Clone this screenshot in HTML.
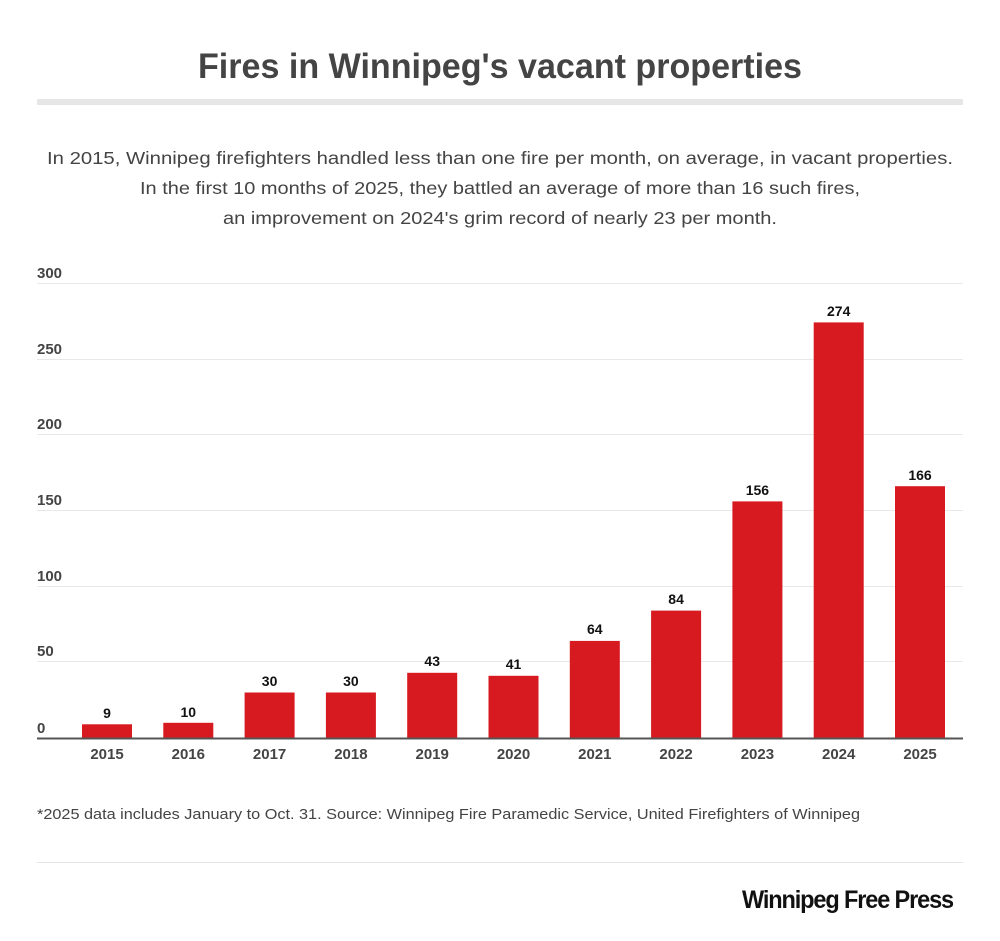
<!DOCTYPE html>
<html><head><meta charset="utf-8"><style>
html,body{margin:0;padding:0;background:#fff;}
svg{display:block;}
text{font-family:"Liberation Sans",sans-serif;}
</style></head><body>
<svg width="1000" height="941" viewBox="0 0 1000 941" xmlns="http://www.w3.org/2000/svg">
<rect width="1000" height="941" fill="#fff"/>
<text x="500" y="78" text-anchor="middle" font-size="35" font-weight="bold" fill="#444" textLength="604" lengthAdjust="spacingAndGlyphs">Fires in Winnipeg's vacant properties</text>
<rect x="37" y="99" width="926" height="6" fill="#e6e6e6"/>
<g font-size="17.5" fill="#444" text-anchor="middle">
<text x="500" y="164" textLength="906" lengthAdjust="spacingAndGlyphs">In 2015, Winnipeg firefighters handled less than one fire per month, on average, in vacant properties.</text>
<text x="500" y="194" textLength="720" lengthAdjust="spacingAndGlyphs">In the first 10 months of 2025, they battled an average of more than 16 such fires,</text>
<text x="500" y="224" textLength="554" lengthAdjust="spacingAndGlyphs">an improvement on 2024's grim record of nearly 23 per month.</text>
</g>
<g stroke="#e8e8e8" stroke-width="1">
<line x1="37" x2="963" y1="283.5" y2="283.5"/>
<line x1="37" x2="963" y1="359.5" y2="359.5"/>
<line x1="37" x2="963" y1="434.5" y2="434.5"/>
<line x1="37" x2="963" y1="510.5" y2="510.5"/>
<line x1="37" x2="963" y1="586.5" y2="586.5"/>
<line x1="37" x2="963" y1="661.5" y2="661.5"/>
</g>
<g font-size="15" font-weight="bold" fill="#444">
<text x="37" y="278">300</text>
<text x="37" y="354">250</text>
<text x="37" y="429">200</text>
<text x="37" y="505">150</text>
<text x="37" y="581">100</text>
<text x="37" y="656">50</text>
<text x="37" y="733">0</text>
</g>
<g fill="#d71920">
<rect x="82" y="724.3" width="50" height="13.7"/>
<rect x="163.3" y="722.8" width="50" height="15.2"/>
<rect x="244.6" y="692.5" width="50" height="45.5"/>
<rect x="325.9" y="692.5" width="50" height="45.5"/>
<rect x="407.2" y="672.8" width="50" height="65.2"/>
<rect x="488.5" y="675.8" width="50" height="62.2"/>
<rect x="569.8" y="640.9" width="50" height="97.1"/>
<rect x="651.1" y="610.6" width="50" height="127.4"/>
<rect x="732.4" y="501.4" width="50" height="236.6"/>
<rect x="813.7" y="322.4" width="50" height="415.6"/>
<rect x="895" y="486.2" width="50" height="251.8"/>
</g>
<g font-size="14" font-weight="bold" fill="#111" text-anchor="middle">
<text x="107" y="718">9</text>
<text x="188.3" y="717">10</text>
<text x="269.6" y="686">30</text>
<text x="350.9" y="686">30</text>
<text x="432.2" y="666">43</text>
<text x="513.5" y="669">41</text>
<text x="594.8" y="634">64</text>
<text x="676.1" y="604">84</text>
<text x="757.4" y="495">156</text>
<text x="838.7" y="316">274</text>
<text x="920" y="480">166</text>
</g>
<line x1="37" x2="963" y1="738.5" y2="738.5" stroke="#555" stroke-width="2"/>
<g font-size="15" font-weight="bold" fill="#444" text-anchor="middle">
<text x="107" y="759">2015</text>
<text x="188.3" y="759">2016</text>
<text x="269.6" y="759">2017</text>
<text x="350.9" y="759">2018</text>
<text x="432.2" y="759">2019</text>
<text x="513.5" y="759">2020</text>
<text x="594.8" y="759">2021</text>
<text x="676.1" y="759">2022</text>
<text x="757.4" y="759">2023</text>
<text x="838.7" y="759">2024</text>
<text x="920" y="759">2025</text>
</g>
<text x="37" y="819" font-size="15" fill="#444" textLength="823" lengthAdjust="spacingAndGlyphs">*2025 data includes January to Oct. 31. Source: Winnipeg Fire Paramedic Service, United Firefighters of Winnipeg</text>
<line x1="37" x2="963" y1="862.5" y2="862.5" stroke="#e3e3e3" stroke-width="1"/>
<text x="953" y="908" text-anchor="end" font-size="25" font-weight="bold" fill="#111" letter-spacing="-1.2" textLength="211" lengthAdjust="spacingAndGlyphs">Winnipeg Free Press</text>
</svg>
</body></html>
